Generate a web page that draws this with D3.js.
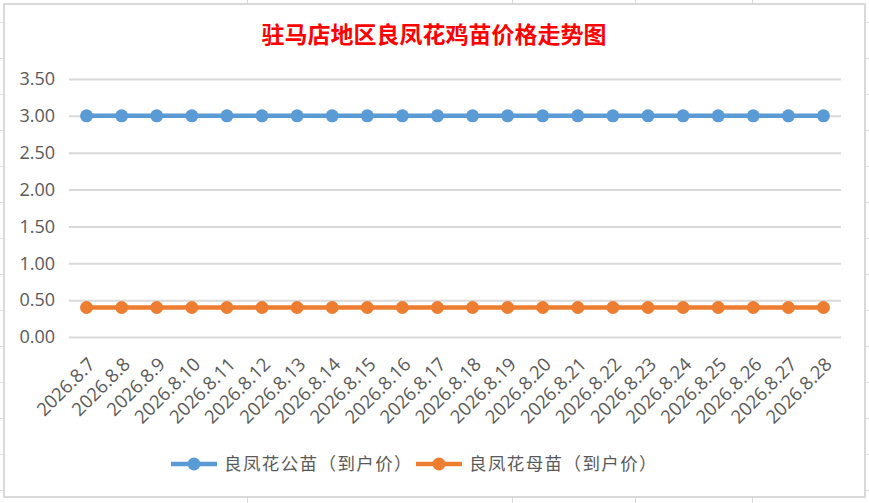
<!DOCTYPE html>
<html>
<head>
<meta charset="utf-8">
<script src="https://cdn.jsdelivr.net/npm/d3@7"></script>
<style>
    body { margin: 0; background: #fff; }
    svg { display: block; }
</style>
</head>
<body>
<svg id="chart" width="869" height="503"></svg>
<script>
// data
const title = '驻马店地区良凤花鸡苗价格走势图';
const dates = ['2026.8.7', '2026.8.8', '2026.8.9', '2026.8.10', '2026.8.11', '2026.8.12',
    '2026.8.13', '2026.8.14', '2026.8.15', '2026.8.16', '2026.8.17', '2026.8.18',
    '2026.8.19', '2026.8.20', '2026.8.21', '2026.8.22', '2026.8.23', '2026.8.24',
    '2026.8.25', '2026.8.26', '2026.8.27', '2026.8.28'];
const maleChicks = [3.00, 3.00, 3.00, 3.00, 3.00, 3.00, 3.00, 3.00, 3.00, 3.00, 3.00,
    3.00, 3.00, 3.00, 3.00, 3.00, 3.00, 3.00, 3.00, 3.00, 3.00, 3.00];
const femaleChicks = [0.40, 0.40, 0.40, 0.40, 0.40, 0.40, 0.40, 0.40, 0.40, 0.40, 0.40,
    0.40, 0.40, 0.40, 0.40, 0.40, 0.40, 0.40, 0.40, 0.40, 0.40, 0.40];
const seriesNames = ['良凤花公苗（到户价）', '良凤花母苗（到户价）'];
const yTicks = [0, 0.5, 1, 1.5, 2, 2.5, 3, 3.5];

const series = [
    { name: seriesNames[0], values: maleChicks, color: '#5b9bd5' },
    { name: seriesNames[1], values: femaleChicks, color: '#ed7d31' }
];

const svg = d3.select('#chart');
const W = 869, H = 503;
const plot = { left: 69, right: 841, top: 79, bottom: 337 };
const txtFont = '"Open Sans", "Noto Sans", sans-serif';
const cjkFont = '"Noto Sans CJK SC", sans-serif';

// spreadsheet cell lines peeking around the chart
const bg = svg.append('g').attr('stroke', '#d9d9d9').attr('stroke-width', 1);
d3.range(22, H, 36).forEach(y => {
    bg.append('line').attr('x1', 0).attr('x2', 3).attr('y1', y + 0.5).attr('y2', y + 0.5);
    bg.append('line').attr('x1', W - 3).attr('x2', W).attr('y1', y + 0.5).attr('y2', y + 0.5);
});
[247, 512, 635, 752].forEach(x => {
    bg.append('line').attr('x1', x + 0.5).attr('x2', x + 0.5).attr('y1', 0).attr('y2', 3);
    bg.append('line').attr('x1', x + 0.5).attr('x2', x + 0.5).attr('y1', H - 5).attr('y2', H);
});

// chart frame
svg.append('rect')
    .attr('x', 4).attr('y', 4)
    .attr('width', W - 8).attr('height', H - 10)
    .attr('fill', '#fff')
    .attr('stroke', '#d9d9d9')
    .attr('stroke-width', 2);

const x = d3.scaleBand()
    .domain(dates)
    .range([plot.left, plot.right]);
const y = d3.scaleLinear()
    .domain([0, 3.5])
    .range([plot.bottom, plot.top]);

// title
svg.append('text')
    .attr('x', 434)
    .attr('y', 43)
    .attr('text-anchor', 'middle')
    .attr('fill', '#ff0000')
    .style('font-family', cjkFont)
    .style('font-size', '23px')
    .style('font-weight', 'bold')
    .text(title);

// gridlines + y axis
const yAxis = svg.append('g')
    .attr('transform', `translate(${plot.left},0)`)
    .call(d3.axisLeft(y)
        .tickValues(yTicks)
        .tickSize(-(plot.right - plot.left))
        .tickPadding(14)
        .tickFormat(d3.format('.2f')));
yAxis.select('.domain').remove();
yAxis.selectAll('.tick line')
    .attr('stroke', '#d9d9d9')
    .attr('stroke-width', 2);
yAxis.selectAll('.tick text')
    .attr('fill', '#595959')
    .style('font-family', txtFont)
    .style('font-size', '18px');

// x axis labels, rotated
const xAxis = svg.append('g')
    .attr('transform', `translate(0,${plot.bottom})`)
    .call(d3.axisBottom(x).tickSize(0).tickPadding(0));
xAxis.select('.domain').remove();
xAxis.selectAll('.tick text')
    .attr('fill', '#595959')
    .style('font-family', txtFont)
    .style('font-size', '18.5px')
    .attr('text-anchor', 'end')
    .attr('y', 0)
    .attr('dy', '0.35em')
    .attr('transform', 'translate(5,24) rotate(-45)');

// lines and markers
const line = d3.line()
    .x((d, i) => x(dates[i]) + x.bandwidth() / 2)
    .y(d => y(d));

series.forEach(s => {
    svg.append('path')
        .datum(s.values)
        .attr('fill', 'none')
        .attr('stroke', s.color)
        .attr('stroke-width', 4.5)
        .attr('stroke-linecap', 'round')
        .attr('d', line);
    svg.append('g').selectAll('circle')
        .data(s.values)
        .enter()
        .append('circle')
        .attr('cx', (d, i) => x(dates[i]) + x.bandwidth() / 2)
        .attr('cy', d => y(d))
        .attr('r', 6.5)
        .attr('fill', s.color);
});

// legend
const legendX = [171, 416];
const legend = svg.append('g');
series.forEach((s, i) => {
    const g = legend.append('g').attr('transform', `translate(${legendX[i]},464)`);
    g.append('line')
        .attr('x1', 0).attr('x2', 46)
        .attr('stroke', s.color)
        .attr('stroke-width', 4.5);
    g.append('circle')
        .attr('cx', 23)
        .attr('r', 6.5)
        .attr('fill', s.color);
    g.append('text')
        .attr('x', 53)
        .attr('dy', '0.36em')
        .attr('fill', '#595959')
        .style('font-family', cjkFont)
        .style('font-size', '17.5px')
        .style('letter-spacing', '1.4px')
        .text(s.name);
});
</script>
</body>
</html>
